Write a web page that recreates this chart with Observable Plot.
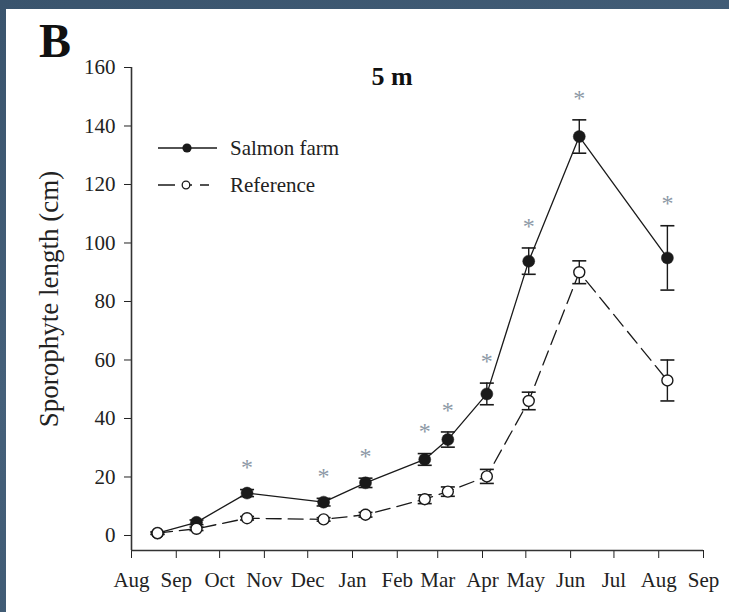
<!DOCTYPE html>
<html>
<head>
<meta charset="utf-8">
<script src="https://cdn.jsdelivr.net/npm/d3@7"></script>
<script src="https://cdn.jsdelivr.net/npm/@observablehq/plot@0.6"></script>
<style>
  html, body { margin: 0; padding: 0; }
  body {
    width: 729px; height: 612px; overflow: hidden; position: relative;
    background: linear-gradient(160deg, #3a546d 0%, #45607a 45%, #3b566f 100%);
  }
  #panel { position: absolute; left: 6px; top: 9px; right: 0; bottom: 0; background: #fff; }
  #chart, #overlay { position: absolute; left: 0; top: 0; }
</style>
</head>
<body>
<div id="panel"></div>
<div id="chart"></div>
<svg id="overlay" width="729" height="612"></svg>
<script>
// Monthly axis ticks (first of each month), August 2010 through September 2011
const monthTicks = ["2010-08-01","2010-09-01","2010-10-01","2010-11-01","2010-12-01","2011-01-01","2011-02-01",
                    "2011-03-01","2011-04-01","2011-05-01","2011-06-01","2011-07-01","2011-08-01","2011-09-01"];
const monthLabels = ["Aug","Sep","Oct","Nov","Dec","Jan","Feb","Mar","Apr","May","Jun","Jul","Aug","Sep"];
const lengthTicks = [0, 20, 40, 60, 80, 100, 120, 140, 160];

// Sampling dates and mean sporophyte length (cm) at 5 m, with standard errors
const sampleDates = ["2010-08-19","2010-09-15","2010-10-20","2010-12-12","2011-01-10","2011-02-20",
                     "2011-03-08","2011-04-04","2011-05-03","2011-06-07","2011-08-07"];
const salmonFarm    = [0.8, 4.5, 14.5, 11.4, 18.0, 26.0, 32.8, 48.4, 93.8, 136.4, 94.9];
const salmonFarmSE  = [0.4, 0.8, 1.2, 1.3, 1.6, 2.0, 2.6, 3.7, 4.5, 5.7, 11.0];
const referenceSite   = [0.8, 2.3, 5.9, 5.5, 7.1, 12.4, 15.0, 20.2, 46.0, 90.0, 53.0];
const referenceSiteSE = [0.4, 0.6, 0.6, 0.6, 0.8, 1.5, 1.6, 2.4, 3.0, 3.9, 7.0];
// Significant difference between sites on each date
const significant = [false, false, true, true, true, true, true, true, true, true, true];

const parse = d3.utcParse("%Y-%m-%d");
const rows = sampleDates.map((d, i) => ({
  date: parse(d),
  salmon: salmonFarm[i], salmonSE: salmonFarmSE[i],
  ref: referenceSite[i], refSE: referenceSiteSE[i],
  sig: significant[i]
}));
const xTicks = monthTicks.map(parse);
const xDomain = [xTicks[0], xTicks[xTicks.length - 1]];
const yDomain = [-5.13, 160];

// Horizontal cap used at the ends of the error bars
const cap = {
  draw(context, size) {
    const w = Math.sqrt(size / Math.PI);
    context.moveTo(-w, 0);
    context.lineTo(w, 0);
  }
};

const ink = "#1a1a1a";

const errorBars = (y, se) => [
  Plot.ruleX(rows, {x: "date", y1: d => d[y] - d[se], y2: d => d[y] + d[se], stroke: ink, strokeWidth: 1.4}),
  Plot.dot(rows, {x: "date", y: d => d[y] - d[se], symbol: cap, r: 7, stroke: ink, strokeWidth: 1.6}),
  Plot.dot(rows, {x: "date", y: d => d[y] + d[se], symbol: cap, r: 7, stroke: ink, strokeWidth: 1.6})
];

const chart = Plot.plot({
  width: 729,
  height: 612,
  marginLeft: 131,
  marginRight: 26,
  marginTop: 67,
  marginBottom: 62,
  style: {
    background: "transparent",
    fontFamily: "'Liberation Serif', 'Times New Roman', serif",
    fontSize: "21px",
    color: "#222"
  },
  x: {
    type: "utc",
    domain: xDomain,
    ticks: xTicks,
    tickFormat: (d, i) => monthLabels[i],
    tickSize: 8,
    tickPadding: 14,
    label: null
  },
  y: {
    domain: yDomain,
    ticks: lengthTicks,
    tickSize: 7,
    tickPadding: 9,
    label: null
  },
  marks: [
    Plot.ruleX([xDomain[0]], {stroke: "#333", strokeWidth: 1.6}),
    Plot.ruleY([yDomain[0]], {stroke: "#333", strokeWidth: 1.6}),
    Plot.line(rows, {x: "date", y: "ref", stroke: ink, strokeWidth: 1.3, strokeDasharray: "15,7"}),
    Plot.line(rows, {x: "date", y: "salmon", stroke: ink, strokeWidth: 1.3}),
    ...errorBars("salmon", "salmonSE"),
    Plot.dot(rows, {x: "date", y: "salmon", r: 6, fill: ink, stroke: ink, strokeWidth: 0.5}),
    ...errorBars("ref", "refSE"),
    Plot.dot(rows, {x: "date", y: "ref", r: 5.5, fill: "white", stroke: ink, strokeWidth: 1.4}),
    Plot.text(rows.filter(d => d.sig), {
      x: "date", y: d => d.salmon + d.salmonSE, text: () => "*",
      dy: -22, fill: "#8d99a6", fontSize: 24
    })
  ]
});
document.getElementById("chart").append(chart);

// Panel letter, depth title, axis title and legend
const svg = d3.select("#overlay");
const serif = "'Liberation Serif', 'Times New Roman', serif";

svg.append("text").attr("x", 39).attr("y", 57)
  .attr("font-family", serif).attr("font-weight", "bold").attr("font-size", 48)
  .attr("fill", "#111").text("B");

svg.append("text").attr("x", 392).attr("y", 85).attr("text-anchor", "middle")
  .attr("font-family", serif).attr("font-weight", "bold").attr("font-size", 26)
  .attr("fill", "#111").text("5 m");

svg.append("text").attr("transform", "translate(58,299) rotate(-90)").attr("text-anchor", "middle")
  .attr("font-family", serif).attr("font-size", 27).attr("fill", "#222")
  .text("Sporophyte length (cm)");

const legend = svg.append("g").attr("font-family", serif).attr("font-size", 21).attr("fill", "#222");
// Salmon farm entry
legend.append("line").attr("x1", 158).attr("x2", 217).attr("y1", 148).attr("y2", 148)
  .attr("stroke", ink).attr("stroke-width", 1.3);
legend.append("circle").attr("cx", 187).attr("cy", 148).attr("r", 4.6).attr("fill", ink);
legend.append("text").attr("x", 230).attr("y", 155).text("Salmon farm");
// Reference entry
legend.append("line").attr("x1", 158).attr("x2", 217).attr("y1", 185).attr("y2", 185)
  .attr("stroke", ink).attr("stroke-width", 1.3).attr("stroke-dasharray", "17,8,9,8,9");
legend.append("circle").attr("cx", 186).attr("cy", 185).attr("r", 3.8)
  .attr("fill", "white").attr("stroke", ink).attr("stroke-width", 1.3);
legend.append("text").attr("x", 230).attr("y", 192).text("Reference");
</script>
</body>
</html>
